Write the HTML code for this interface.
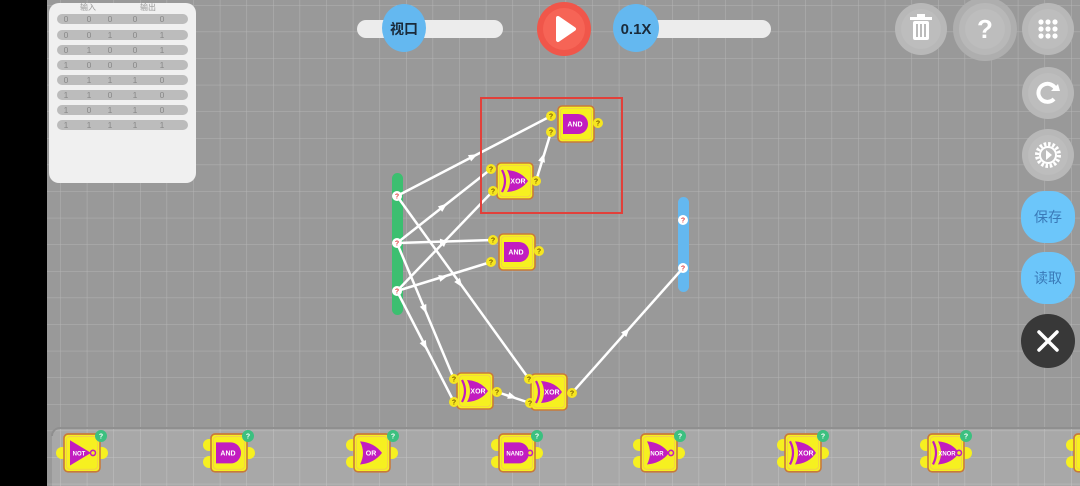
<!DOCTYPE html>
<html><head><meta charset="utf-8"><style>
html,body{margin:0;padding:0;width:1080px;height:486px;overflow:hidden;background:#000}
svg{display:block}
text{font-family:"Liberation Sans","Noto Sans CJK SC",sans-serif}
</style></head><body>
<svg width="1080" height="486" viewBox="0 0 1080 486" xmlns="http://www.w3.org/2000/svg">
<defs>
<pattern id="grid" x="7" y="5" width="26.6" height="26.6" patternUnits="userSpaceOnUse">
<path d="M0,0 H26.6 M0,0 V26.6" stroke="#b4b4b4" stroke-width="1" fill="none"/>
</pattern>
<pattern id="grid2" x="7" y="5" width="26.6" height="26.6" patternUnits="userSpaceOnUse">
<path d="M0,0 H26.6 M0,0 V26.6" stroke="#c2c2c2" stroke-width="1" fill="none"/>
</pattern>
<g id="box"><rect x="0" y="0" width="36" height="36" rx="4" fill="#f6f020" stroke="#c87a3a" stroke-width="1.6"/><rect x="2.5" y="2.5" width="31" height="31" rx="3" fill="none" stroke="#f0c060" stroke-width="0.6"/></g>
<path id="and" d="M5,8 h15 a10,10 0 0 1 0,20 h-15 z" fill="#c21cc0"/>
<g id="xor"><path d="M10,7 q14,1 21,11 q-7,10 -21,11 q6,-11 0,-22 z" fill="#c21cc0"/><path d="M5,7 q6,11 0,22" stroke="#c21cc0" stroke-width="2.2" fill="none"/></g>
<path id="or" d="M6,7 q14,1 22,11 q-8,10 -22,11 q6,-11 0,-22 z" fill="#c21cc0"/>
<g id="not"><path d="M6,6 L27,18 L6,30 z" fill="#c21cc0"/><circle cx="29" cy="18" r="2.5" fill="#f6f020" stroke="#c21cc0" stroke-width="1.5"/></g>
<g id="q"><circle r="5" fill="#f6e620"/><text y="2.5" text-anchor="middle" font-size="7" font-weight="bold" fill="#7a5a00">?</text></g>
<g id="node"><circle r="5" fill="#fff"/><text y="2.5" text-anchor="middle" font-size="7" font-weight="bold" fill="#e04040">?</text></g>
<path id="arr" d="M-5,-3.5 L4,0 L-5,3.5 z" fill="#fff"/>
</defs>
<rect x="47" y="0" width="1033" height="486" fill="#999"/>
<rect x="47" y="0" width="1033" height="486" fill="url(#grid)"/>

<!-- truth table -->
<rect x="49" y="3" width="147" height="180" rx="10" fill="#f0f0f0"/>
<text x="88" y="10" font-size="8" fill="#999" text-anchor="middle">输入</text>
<text x="148" y="10" font-size="8" fill="#999" text-anchor="middle">输出</text>
<g font-size="8.5" fill="#888" text-anchor="middle">
<rect x="57" y="14" width="131" height="10" rx="5" fill="#bcbcbc"/>
<rect x="57" y="30" width="131" height="10" rx="5" fill="#bcbcbc"/>
<rect x="57" y="45" width="131" height="10" rx="5" fill="#bcbcbc"/>
<rect x="57" y="60" width="131" height="10" rx="5" fill="#bcbcbc"/>
<rect x="57" y="75" width="131" height="10" rx="5" fill="#bcbcbc"/>
<rect x="57" y="90" width="131" height="10" rx="5" fill="#bcbcbc"/>
<rect x="57" y="105" width="131" height="10" rx="5" fill="#bcbcbc"/>
<rect x="57" y="120" width="131" height="10" rx="5" fill="#bcbcbc"/>
<text x="66" y="22">0</text><text x="89" y="22">0</text><text x="110" y="22">0</text><text x="135" y="22">0</text><text x="162" y="22">0</text>
<text x="66" y="38">0</text><text x="89" y="38">0</text><text x="110" y="38">1</text><text x="135" y="38">0</text><text x="162" y="38">1</text>
<text x="66" y="53">0</text><text x="89" y="53">1</text><text x="110" y="53">0</text><text x="135" y="53">0</text><text x="162" y="53">1</text>
<text x="66" y="68">1</text><text x="89" y="68">0</text><text x="110" y="68">0</text><text x="135" y="68">0</text><text x="162" y="68">1</text>
<text x="66" y="83">0</text><text x="89" y="83">1</text><text x="110" y="83">1</text><text x="135" y="83">1</text><text x="162" y="83">0</text>
<text x="66" y="98">1</text><text x="89" y="98">1</text><text x="110" y="98">0</text><text x="135" y="98">1</text><text x="162" y="98">0</text>
<text x="66" y="113">1</text><text x="89" y="113">0</text><text x="110" y="113">1</text><text x="135" y="113">1</text><text x="162" y="113">0</text>
<text x="66" y="128">1</text><text x="89" y="128">1</text><text x="110" y="128">1</text><text x="135" y="128">1</text><text x="162" y="128">1</text>
</g>

<!-- top controls -->
<rect x="357" y="20" width="146" height="18" rx="9" fill="#ececec"/>
<ellipse cx="404" cy="28" rx="22" ry="24" fill="#64b8f0"/>
<text x="404" y="34" font-size="14" fill="#1a2a3a" text-anchor="middle" font-weight="bold">视口</text>
<circle cx="564" cy="29" r="27" fill="#f0564a"/>
<circle cx="564" cy="29" r="21" fill="#f66456"/>
<path d="M558,18 L574,29 L558,40 z" fill="#fff" stroke="#fff" stroke-width="4" stroke-linejoin="round"/>
<rect x="614" y="20" width="157" height="18" rx="9" fill="#ececec"/>
<ellipse cx="636" cy="28" rx="23" ry="24" fill="#64b8f0"/>
<text x="636" y="34" font-size="15" fill="#1a2a3a" text-anchor="middle" font-weight="bold">0.1X</text>

<!-- right buttons -->
<circle cx="921" cy="29" r="26" fill="#b8b8b8"/><circle cx="921" cy="29" r="20" fill="#bdbdbd"/>
<rect x="913" y="21" width="16" height="19" rx="2" fill="#fff"/><rect x="910" y="17" width="22" height="3" fill="#fff"/><rect x="917" y="14" width="8" height="3" fill="#fff"/>
<rect x="916" y="24" width="2" height="13" fill="#bbb"/><rect x="920" y="24" width="2" height="13" fill="#bbb"/><rect x="924" y="24" width="2" height="13" fill="#bbb"/>
<circle cx="985" cy="29" r="32" fill="#aeaeae"/><circle cx="985" cy="29" r="26" fill="#b8b8b8"/><circle cx="985" cy="29" r="20" fill="#bdbdbd"/>
<text x="985" y="38" font-size="26" fill="#fff" text-anchor="middle" font-weight="bold">?</text>
<circle cx="1048" cy="29" r="26" fill="#b8b8b8"/><circle cx="1048" cy="29" r="20" fill="#bdbdbd"/>
<g fill="#fff"><circle cx="1041" cy="22" r="2.6"/><circle cx="1048" cy="22" r="2.6"/><circle cx="1055" cy="22" r="2.6"/><circle cx="1041" cy="29" r="2.6"/><circle cx="1048" cy="29" r="2.6"/><circle cx="1055" cy="29" r="2.6"/><circle cx="1041" cy="36" r="2.6"/><circle cx="1048" cy="36" r="2.6"/><circle cx="1055" cy="36" r="2.6"/></g>
<circle cx="1048" cy="93" r="26" fill="#b8b8b8"/><circle cx="1048" cy="93" r="20" fill="#bdbdbd"/>
<path d="M1056,90 A9,9 0 1 0 1054,99" stroke="#fff" stroke-width="4" fill="none"/><path d="M1051,91 L1060,91 L1058,84 z" fill="#fff"/>
<circle cx="1048" cy="155" r="26" fill="#b8b8b8"/><circle cx="1048" cy="155" r="20" fill="#bdbdbd"/>
<circle cx="1048" cy="155" r="11" fill="none" stroke="#fff" stroke-width="4" stroke-dasharray="2.5 1.8"/><circle cx="1048" cy="155" r="8" fill="none" stroke="#fff" stroke-width="2"/><path d="M1046,150 L1052,155 L1046,160z" fill="#fff"/>
<rect x="1021" y="191" width="54" height="52" rx="24" fill="#6cc6fa"/>
<text x="1048" y="222" font-size="14" fill="#3a7ab8" text-anchor="middle">保存</text>
<rect x="1021" y="252" width="54" height="52" rx="24" fill="#6cc6fa"/>
<text x="1048" y="283" font-size="14" fill="#3a7ab8" text-anchor="middle">读取</text>
<circle cx="1048" cy="341" r="27" fill="#383838"/>
<path d="M1039,332 L1057,350 M1057,332 L1039,350" stroke="#fff" stroke-width="3.5" stroke-linecap="round"/>

<!-- input/output bars -->
<rect x="392" y="173" width="11" height="142" rx="5.5" fill="#3cbf70"/>
<rect x="678" y="197" width="11" height="95" rx="5.5" fill="#64b8f0"/>

<!-- wires -->
<g stroke="#fff" stroke-width="2.5" fill="none">
<line x1="397" y1="196" x2="551" y2="116"/>
<line x1="397" y1="196" x2="529" y2="379"/>
<line x1="397" y1="243" x2="491" y2="169"/>
<line x1="397" y1="243" x2="493" y2="240"/>
<line x1="397" y1="243" x2="454" y2="379"/>
<line x1="397" y1="291" x2="493" y2="191"/>
<line x1="397" y1="291" x2="491" y2="262"/>
<line x1="397" y1="291" x2="454" y2="402"/>
<line x1="536" y1="181" x2="551" y2="132"/>
<line x1="497" y1="392" x2="530" y2="403"/>
<line x1="572" y1="393" x2="683" y2="268"/>
</g>
<use href="#arr" transform="translate(474,156) rotate(-27)"/>
<use href="#arr" transform="translate(460,284) rotate(54)"/>
<use href="#arr" transform="translate(444,206) rotate(-38)"/>
<use href="#arr" transform="translate(445,242) rotate(-2)"/>
<use href="#arr" transform="translate(425,310) rotate(67)"/>
<use href="#arr" transform="translate(445,241) rotate(-46)"/>
<use href="#arr" transform="translate(444,277) rotate(-17)"/>
<use href="#arr" transform="translate(425,346) rotate(63)"/>
<use href="#arr" transform="translate(543,157) rotate(-73)"/>
<use href="#arr" transform="translate(513,397) rotate(18)"/>
<use href="#arr" transform="translate(627,331) rotate(-48)"/>

<!-- nodes -->
<use href="#node" x="397" y="196"/><use href="#node" x="397" y="243"/><use href="#node" x="397" y="291"/>
<use href="#node" x="683" y="220"/><use href="#node" x="683" y="268"/>

<!-- gates in canvas -->
<g transform="translate(558,106)"><use href="#box"/><use href="#and"/><text x="17" y="20.5" font-size="7" fill="#fff" text-anchor="middle" font-weight="bold">AND</text></g>
<use href="#q" x="551" y="116"/><use href="#q" x="551" y="132"/><use href="#q" x="598" y="123"/>
<g transform="translate(497,163)"><use href="#box"/><use href="#xor"/><text x="21" y="20.5" font-size="7" fill="#fff" text-anchor="middle" font-weight="bold">XOR</text></g>
<use href="#q" x="491" y="169"/><use href="#q" x="493" y="191"/><use href="#q" x="536" y="181"/>
<g transform="translate(499,234)"><use href="#box"/><use href="#and"/><text x="17" y="20.5" font-size="7" fill="#fff" text-anchor="middle" font-weight="bold">AND</text></g>
<use href="#q" x="493" y="240"/><use href="#q" x="491" y="262"/><use href="#q" x="539" y="251"/>
<g transform="translate(457,373)"><use href="#box"/><use href="#xor"/><text x="21" y="20.5" font-size="7" fill="#fff" text-anchor="middle" font-weight="bold">XOR</text></g>
<use href="#q" x="454" y="379"/><use href="#q" x="454" y="402"/><use href="#q" x="497" y="392"/>
<g transform="translate(531,374)"><use href="#box"/><use href="#xor"/><text x="21" y="20.5" font-size="7" fill="#fff" text-anchor="middle" font-weight="bold">XOR</text></g>
<use href="#q" x="529" y="379"/><use href="#q" x="530" y="403"/><use href="#q" x="572" y="393"/>

<!-- selection rect -->
<rect x="481" y="98" width="141" height="115" fill="none" stroke="#e2403a" stroke-width="2"/>

<!-- palette -->
<rect x="52" y="428" width="1040" height="70" rx="8" fill="#a8a8a8"/>
<rect x="52" y="428" width="1040" height="70" rx="8" fill="url(#grid2)"/>
<path d="M52,436 a8,8 0 0 1 8,-8 H1080" stroke="#8f8f8f" stroke-width="2" fill="none"/>
<g fill="#f6f020">
<circle cx="62" cy="453" r="6"/><circle cx="102" cy="453" r="6"/>
<circle cx="209" cy="445" r="6"/><circle cx="209" cy="462" r="6"/><circle cx="249" cy="453" r="6"/>
<circle cx="352" cy="445" r="6"/><circle cx="352" cy="462" r="6"/><circle cx="392" cy="453" r="6"/>
<circle cx="497" cy="445" r="6"/><circle cx="497" cy="462" r="6"/><circle cx="537" cy="453" r="6"/>
<circle cx="639" cy="445" r="6"/><circle cx="639" cy="462" r="6"/><circle cx="679" cy="453" r="6"/>
<circle cx="783" cy="445" r="6"/><circle cx="783" cy="462" r="6"/><circle cx="823" cy="453" r="6"/>
<circle cx="926" cy="445" r="6"/><circle cx="926" cy="462" r="6"/><circle cx="966" cy="453" r="6"/>
<circle cx="1072" cy="445" r="6"/><circle cx="1072" cy="462" r="6"/>
</g>
<g transform="translate(64,434) scale(1,1.05)"><use href="#box"/><use href="#not"/><text x="15" y="20.5" font-size="6" fill="#fff" text-anchor="middle" font-weight="bold">NOT</text></g>
<g transform="translate(211,434) scale(1,1.05)"><use href="#box"/><use href="#and"/><text x="17" y="20.5" font-size="7" fill="#fff" text-anchor="middle" font-weight="bold">AND</text></g>
<g transform="translate(354,434) scale(1,1.05)"><use href="#box"/><use href="#or"/><text x="17" y="20.5" font-size="7" fill="#fff" text-anchor="middle" font-weight="bold">OR</text></g>
<g transform="translate(499,434) scale(1,1.05)"><use href="#box"/><use href="#and"/><circle cx="31" cy="18" r="2.5" fill="#f6f020" stroke="#c21cc0" stroke-width="1.5"/><text x="16" y="20.5" font-size="6" fill="#fff" text-anchor="middle" font-weight="bold">NAND</text></g>
<g transform="translate(641,434) scale(1,1.05)"><use href="#box"/><use href="#or"/><circle cx="30" cy="18" r="2.5" fill="#f6f020" stroke="#c21cc0" stroke-width="1.5"/><text x="16" y="20.5" font-size="6" fill="#fff" text-anchor="middle" font-weight="bold">NOR</text></g>
<g transform="translate(785,434) scale(1,1.05)"><use href="#box"/><use href="#xor"/><text x="21" y="20.5" font-size="7" fill="#fff" text-anchor="middle" font-weight="bold">XOR</text></g>
<g transform="translate(928,434) scale(1,1.05)"><use href="#box"/><use href="#xor"/><circle cx="31" cy="18" r="2.5" fill="#f6f020" stroke="#c21cc0" stroke-width="1.5"/><text x="19" y="20.5" font-size="6" fill="#fff" text-anchor="middle" font-weight="bold">XNOR</text></g>
<g transform="translate(1074,434) scale(1,1.05)"><use href="#box"/></g>
<g fill="#3cc080">
<circle cx="101" cy="436" r="6"/><circle cx="248" cy="436" r="6"/><circle cx="393" cy="436" r="6"/><circle cx="537" cy="436" r="6"/><circle cx="680" cy="436" r="6"/><circle cx="823" cy="436" r="6"/><circle cx="966" cy="436" r="6"/>
</g>
<g font-size="7" fill="#fff" text-anchor="middle" font-weight="bold">
<text x="101" y="438.5">?</text><text x="248" y="438.5">?</text><text x="393" y="438.5">?</text><text x="537" y="438.5">?</text><text x="680" y="438.5">?</text><text x="823" y="438.5">?</text><text x="966" y="438.5">?</text>
</g>
</svg>
</body></html>
